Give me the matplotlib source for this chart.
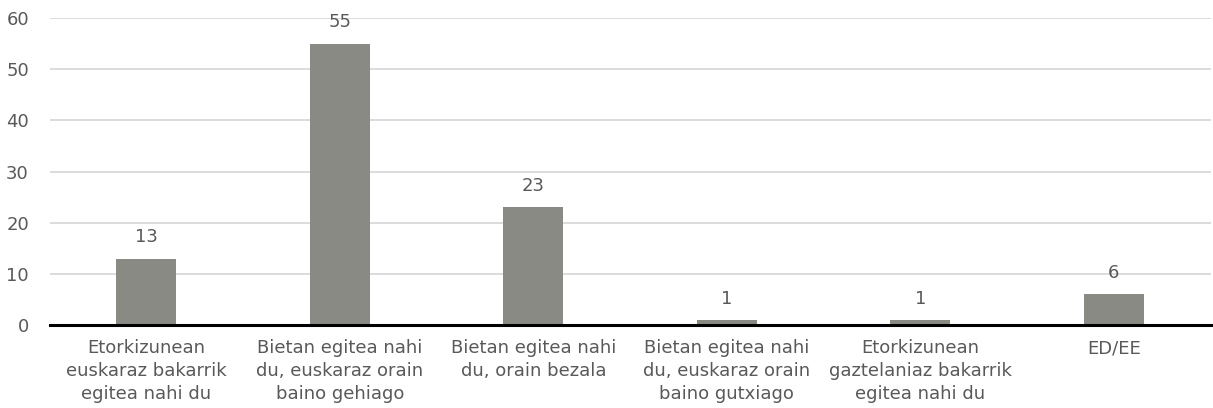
import numpy as np
import matplotlib.pyplot as plt

categories = ["Etorkizunean\neuskaraz bakarrik\negitea nahi du",
              "Bietan egitea nahi\ndu, euskaraz orain\nbaino gehiago",
              "Bietan egitea nahi\ndu, orain bezala",
              "Bietan egitea nahi\ndu, euskaraz orain\nbaino gutxiago",
              "Etorkizunean\ngaztelaniaz bakarrik\negitea nahi du",
              "ED/EE"]
values = [13, 55, 23, 1, 1, 6]
yticks = [0, 10, 20, 30, 40, 50, 60]

plt.rcParams['font.family'] = ['DejaVu Sans']

text_col = "#595959"
bar_col = "#8A8A84"

fig = plt.figure(figsize=(12.13, 4.08), dpi=100)
ax = fig.add_axes([0.041, 0.203, 0.957, 0.753])

x = np.arange(len(values))
bars = ax.bar(x, values, width=0.31, color=bar_col, zorder=3)

for xi, v in zip(x, values):
    ax.annotate(str(v), (xi, v), xytext=(0, 9), textcoords="offset points",
                ha="center", va="bottom", fontsize=13, color=text_col)

ax.set_xlim(-0.5, len(values) - 0.5)
ax.set_ylim(0, 60)
ax.set_yticks(yticks)
ax.set_yticklabels([str(t) for t in yticks])
ax.set_xticks(x)
ax.set_xticklabels(categories, linespacing=1.36)

ax.tick_params(axis="both", length=0, labelsize=13, labelcolor=text_col)
ax.tick_params(axis="y", pad=15)
ax.tick_params(axis="x", pad=10)

ax.yaxis.grid(True, color="#D9D9D9", linewidth=1.3, zorder=0)
ax.set_axisbelow(True)

for s in ["top", "right", "left"]:
    ax.spines[s].set_visible(False)
ax.spines["bottom"].set_color("black")
ax.spines["bottom"].set_linewidth(2.2)
ax.spines["bottom"].set_zorder(4)

fig.savefig("out.png", dpi=100)
